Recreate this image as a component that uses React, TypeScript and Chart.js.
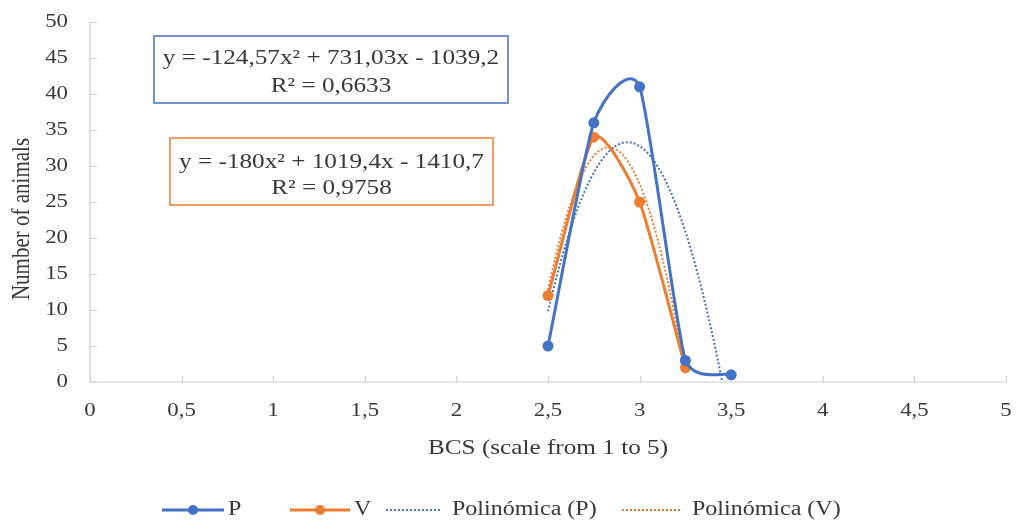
import React, { useEffect, useRef } from "react";
import { Chart, registerables } from "chart.js";

Chart.register(...registerables);

// ---- data ----
const bcsValues = [2.5, 2.75, 3, 3.25, 3.5];
const pCounts = [5, 36, 41, 3, 1];
const vCounts = [12, 34, 25, 2];
// polynomial trendline coefficients shown in the chart [a, b, c] for a*x^2 + b*x + c
const trendCoefP = [-124.57, 731.03, -1039.2];
const trendCoefV = [-180, 1019.4, -1410.7];
const trendRangeP = [2.5, 3.5];
const trendRangeV = [2.5, 3.25];
const xTickValues = [0, 0.5, 1, 1.5, 2, 2.5, 3, 3.5, 4, 4.5, 5];
const xTickLabels = ["0", "0,5", "1", "1,5", "2", "2,5", "3", "3,5", "4", "4,5", "5"];
const yTickValues = [0, 5, 10, 15, 20, 25, 30, 35, 40, 45, 50];
const yTickLabels = ["0", "5", "10", "15", "20", "25", "30", "35", "40", "45", "50"];
const seriesNames = ["P", "V", "Polinómica (P)", "Polinómica (V)"];
const eqP = ["y = -124,57x² + 731,03x - 1039,2", "R² = 0,6633"];
const eqV = ["y = -180x² + 1019,4x - 1410,7", "R² = 0,9758"];
const xTitle = "BCS (scale from 1 to 5)";
const yTitle = "Number of animals";

const BLUE = "#4472C4";
const ORANGE = "#ED7D31";
const TEXT = "#383838";
const SX = 1.2;
const SERIF = "'Liberation Serif', 'Times New Roman', serif";
const SMOOTH = 0.1;

function trendPoints(coef: number[], range: number[]) {
  const pts: { x: number; y: number }[] = [];
  const n = 100;
  for (let i = 0; i <= n; i++) {
    const x = range[0] + ((range[1] - range[0]) * i) / n;
    pts.push({ x, y: coef[0] * x * x + coef[1] * x + coef[2] });
  }
  return pts;
}

function txt(ctx: CanvasRenderingContext2D, s: string, x: number, y: number, align: CanvasTextAlign, size: number) {
  ctx.save();
  ctx.translate(x, y);
  ctx.scale(SX, 1);
  ctx.font = `${size}px ${SERIF}`;
  ctx.textAlign = align;
  ctx.textBaseline = "middle";
  ctx.fillStyle = TEXT;
  ctx.fillText(s, 0, 0);
  ctx.restore();
}

// Excel-like smoothing: uniform Catmull-Rom style control points (no distance weighting)
const smoothPlugin = {
  id: "excelSmooth",
  beforeDatasetsDraw(chart: any) {
    const ca = chart.chartArea;
    const clampY = (y: number) => Math.max(ca.top, Math.min(ca.bottom, y));
    [0, 1].forEach((di) => {
      const meta = chart.getDatasetMeta(di);
      const pts = meta.data;
      const n = pts.length;
      for (let i = 0; i < n; i++) {
        const cur = pts[i];
        const prev = pts[Math.max(0, i - 1)];
        const next = pts[Math.min(n - 1, i + 1)];
        const k = i === 0 || i === n - 1 ? SMOOTH * 2 : SMOOTH;
        const dx = next.x - prev.x;
        const dy = next.y - prev.y;
        cur.cp1x = cur.x - k * dx;
        cur.cp1y = clampY(cur.y - k * dy);
        cur.cp2x = cur.x + k * dx;
        cur.cp2y = clampY(cur.y + k * dy);
      }
      if (meta.dataset) meta.dataset._pointsUpdated = true;
    });
  },
};

const decorPlugin = {
  id: "decor",
  beforeDatasetsDraw(chart: any) {
    const ctx: CanvasRenderingContext2D = chart.ctx;
    const xs = chart.scales.x;
    const ys = chart.scales.y;
    const ca = chart.chartArea;
    ctx.save();
    ctx.strokeStyle = "#d0d0d0";
    ctx.lineWidth = 1.2;
    ctx.beginPath();
    ctx.moveTo(ca.left, ca.top);
    ctx.lineTo(ca.left, ca.bottom);
    ctx.lineTo(ca.right, ca.bottom);
    ctx.stroke();
    ctx.beginPath();
    yTickValues.forEach((v) => {
      const y = Math.round(ys.getPixelForValue(v)) + 0.5;
      ctx.moveTo(ca.left, y);
      ctx.lineTo(ca.left + 7, y);
    });
    xTickValues.forEach((v) => {
      const x = Math.round(xs.getPixelForValue(v)) + 0.5;
      ctx.moveTo(x, ca.bottom);
      ctx.lineTo(x, ca.bottom - 6);
    });
    ctx.stroke();
    ctx.restore();
  },
  afterDraw(chart: any) {
    const ctx: CanvasRenderingContext2D = chart.ctx;
    const xs = chart.scales.x;
    const ys = chart.scales.y;
    const ca = chart.chartArea;
    // tick labels
    yTickValues.forEach((v, i) => txt(ctx, yTickLabels[i], 68, ys.getPixelForValue(v), "right", 19));
    xTickValues.forEach((v, i) => txt(ctx, xTickLabels[i], xs.getPixelForValue(v), 411, "center", 19));
    // axis titles
    txt(ctx, xTitle, (ca.left + ca.right) / 2, 448, "center", 21);
    ctx.save();
    ctx.translate(22, 219);
    ctx.rotate(-Math.PI / 2);
    ctx.scale(1, SX);
    ctx.font = `21px ${SERIF}`;
    ctx.textAlign = "center";
    ctx.textBaseline = "middle";
    ctx.fillStyle = TEXT;
    ctx.fillText(yTitle, 0, 0);
    ctx.restore();
    // equation boxes
    const box = (x0: number, y0: number, x1: number, y1: number, color: string, lines: string[], ly: number[]) => {
      ctx.save();
      ctx.fillStyle = "#ffffff";
      ctx.fillRect(x0, y0, x1 - x0, y1 - y0);
      ctx.strokeStyle = color;
      ctx.lineWidth = 1.5;
      ctx.strokeRect(x0, y0, x1 - x0, y1 - y0);
      ctx.restore();
      lines.forEach((l, i) => txt(ctx, l, (x0 + x1) / 2, ly[i], "center", 21));
    };
    box(154, 36, 508, 103, BLUE, eqP, [58, 86]);
    box(170, 138, 493, 205, ORANGE, eqV, [162, 188]);
    // legend
    const ly = 510;
    const solid = (x0: number, x1: number, c: string) => {
      ctx.save();
      ctx.strokeStyle = c;
      ctx.lineWidth = 3;
      ctx.beginPath();
      ctx.moveTo(x0, ly);
      ctx.lineTo(x1, ly);
      ctx.stroke();
      ctx.fillStyle = c;
      ctx.beginPath();
      ctx.arc((x0 + x1) / 2, ly, 5, 0, Math.PI * 2);
      ctx.fill();
      ctx.restore();
    };
    const dotted = (x0: number, x1: number, c: string) => {
      ctx.save();
      ctx.strokeStyle = c;
      ctx.lineWidth = 2;
      ctx.setLineDash([2, 2]);
      ctx.beginPath();
      ctx.moveTo(x0, ly);
      ctx.lineTo(x1, ly);
      ctx.stroke();
      ctx.restore();
    };
    solid(162, 224, BLUE);
    txt(ctx, seriesNames[0], 228, ly, "left", 20);
    solid(290, 350, ORANGE);
    txt(ctx, seriesNames[1], 354, ly, "left", 20);
    dotted(386, 442, BLUE);
    txt(ctx, seriesNames[2], 452, ly, "left", 20);
    dotted(622, 682, ORANGE);
    txt(ctx, seriesNames[3], 692, ly, "left", 20);
  },
};

export default function App() {
  const ref = useRef<HTMLCanvasElement | null>(null);
  useEffect(() => {
    if (!ref.current) return;
    const chart = new Chart(ref.current, {
      type: "line",
      data: {
        datasets: [
          {
            label: seriesNames[0],
            data: bcsValues.map((x, i) => ({ x, y: pCounts[i] })),
            borderColor: BLUE,
            backgroundColor: BLUE,
            borderWidth: 3,
            pointRadius: 5.5,
            pointBorderWidth: 0,
            tension: 0.2,
          },
          {
            label: seriesNames[1],
            data: vCounts.map((y, i) => ({ x: bcsValues[i], y })),
            borderColor: ORANGE,
            backgroundColor: ORANGE,
            borderWidth: 3,
            pointRadius: 5.5,
            pointBorderWidth: 0,
            tension: 0.2,
          },
          {
            label: seriesNames[2],
            data: trendPoints(trendCoefP, trendRangeP),
            borderColor: BLUE,
            borderWidth: 2,
            borderDash: [2, 2],
            pointRadius: 0,
            tension: 0,
            clip: 0,
          },
          {
            label: seriesNames[3],
            data: trendPoints(trendCoefV, trendRangeV),
            borderColor: ORANGE,
            borderWidth: 2,
            borderDash: [2, 2],
            pointRadius: 0,
            tension: 0,
            clip: 0,
          },
        ] as any,
      },
      options: {
        animation: false,
        responsive: false,
        layout: { padding: { left: 90, right: 10, top: 22, bottom: 143 } },
        plugins: { legend: { display: false }, tooltip: { enabled: false } },
        scales: {
          x: {
            type: "linear",
            min: 0,
            max: 5,
            ticks: { display: false, stepSize: 0.5 },
            grid: { display: false },
            border: { display: false },
            afterFit: (s: any) => {
              s.height = 0;
            },
          },
          y: {
            min: 0,
            max: 50,
            ticks: { display: false, stepSize: 5 },
            grid: { display: false },
            border: { display: false },
            afterFit: (s: any) => {
              s.width = 0;
            },
          },
        },
      } as any,
      plugins: [smoothPlugin, decorPlugin],
    });
    return () => chart.destroy();
  }, []);
  return (
    <div style={{ position: "absolute", left: 0, top: 0, width: 1016, height: 525, background: "#fff" }}>
      <canvas ref={ref} width={1016} height={525} style={{ display: "block" }} />
    </div>
  );
}
